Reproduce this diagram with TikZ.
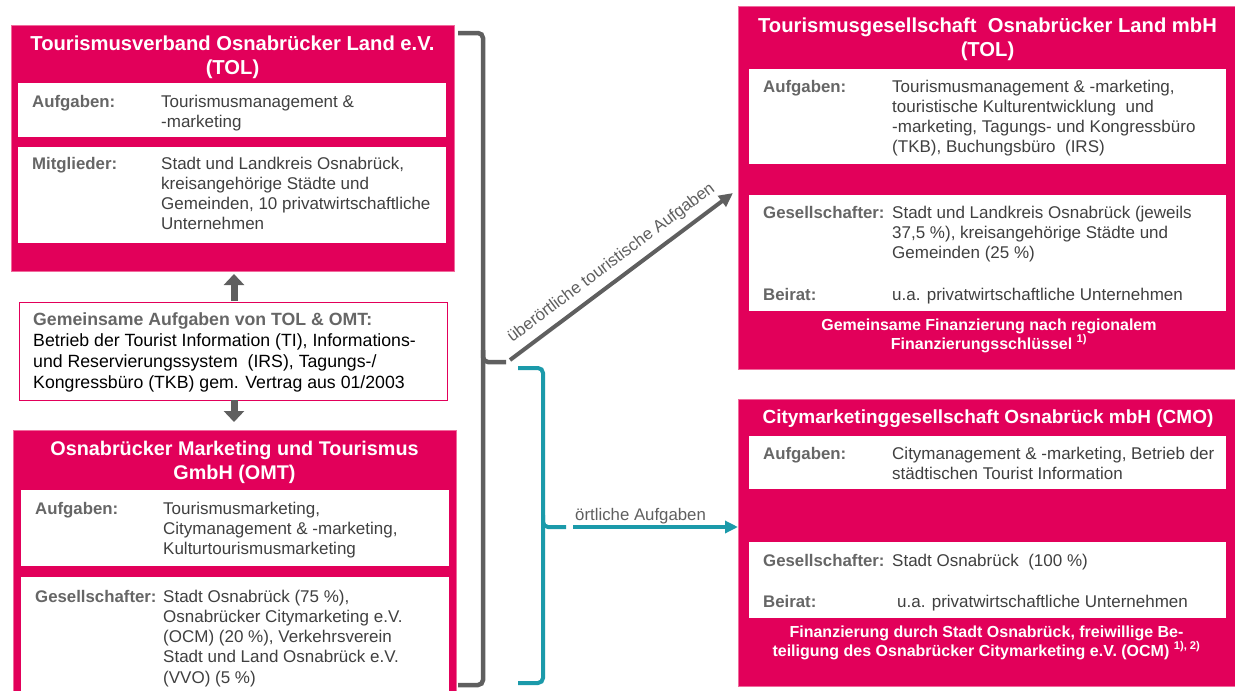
\documentclass[tikz,border=0pt]{standalone}
\usepackage{fontspec}
\setmainfont{Liberation Sans}
\usetikzlibrary{arrows.meta}
\definecolor{tmag}{HTML}{E2005A}
\definecolor{tmagl}{HTML}{F06A9C}
\definecolor{tgray}{HTML}{5F5F5F}
\definecolor{tlab}{HTML}{666666}
\definecolor{ttext}{HTML}{404040}
\definecolor{tteal}{HTML}{1B9AAA}
\newcommand{\mylines}[2]{\parbox[t]{#1}{\raggedright #2}}
\newcommand{\mycenter}[2]{\parbox[t]{#1}{\centering #2}}
\begin{document}
\begin{tikzpicture}[x=1pt,y=-1pt,
  pinkbox/.style={fill=tmag,draw=tmagl,line width=0.6pt,inner sep=0,outer sep=0,anchor=north west},
  whitebox/.style={fill=white,draw=none,inner sep=0,outer sep=0,anchor=north west},
  titletext/.style={anchor=base,inner sep=0,text=white,font=\fontsize{19.8}{24.5}\selectfont\bfseries},
  fintext/.style={anchor=base,inner sep=0,text=white,font=\fontsize{16}{19}\selectfont\bfseries},
  labtext/.style={anchor=base west,inner sep=0,text=tlab,font=\fontsize{16.8}{20.3}\selectfont\bfseries},
  valtext/.style={anchor=base west,inner sep=0,text=ttext,font=\fontsize{17}{20.3}\selectfont},
  blockarrow/.style={draw=tgray,line width=7pt,-{Triangle[length=11pt,width=20pt]}},
  bracegray/.style={draw=tgray,line width=4.5pt,rounded corners=5pt},
  braceteal/.style={draw=tteal,line width=4pt,rounded corners=5pt},
  arrlabel/.style={text=tgray,font=\fontsize{16.8}{20}\selectfont,inner sep=0}
]
\useasboundingbox (0,0) rectangle (1235,691);

% ---------- left top box: Tourismusverband
\node[pinkbox,minimum width=443,minimum height=246] (tolv) at (11,25) {};
\node[whitebox,minimum width=428,minimum height=54] (tolvA) at (18,83) {};
\node[whitebox,minimum width=428,minimum height=96] (tolvM) at (18,147) {};
\node[titletext,font=\fontsize{20.2}{24.5}\selectfont\bfseries] (tolvT) at (232.5,50) {\mycenter{440pt}{Tourismusverband Osnabrücker Land e.V.\\(TOL)}};
\node[labtext] (tolvAl) at (32,107) {Aufgaben:};
\node[valtext] (tolvAv) at (161,107) {\mylines{285pt}{Tourismusmanagement \&\\-marketing}};
\node[labtext] (tolvMl) at (32,169) {Mitglieder:};
\node[valtext] (tolvMv) at (161,169) {\mylines{285pt}{Stadt und Landkreis Osnabrück,\\kreisangehörige Städte und\\Gemeinden, 10 privatwirtschaftliche\\Unternehmen}};

% ---------- middle box
\node[draw=tmag,fill=white,line width=1pt,inner sep=0,outer sep=0,anchor=north west,minimum width=428,minimum height=98] (mid) at (19,302) {};
\node[anchor=base west,inner sep=0,text=black,font=\fontsize{17.7}{21}\selectfont] (midT) at (33,325)
  {\mylines{412pt}{\leavevmode{\color{tlab}\bfseries Gemeinsame Aufgaben von TOL \& OMT:}\\Betrieb der Tourist Information (TI), Informations-\\und Reservierungssystem~ (IRS), Tagungs-/\\Kongressbüro (TKB) gem. Vertrag aus 01/2003}};

% ---------- left bottom box: OMT
\node[pinkbox,minimum width=443,minimum height=262] (omt) at (13,430) {};
\node[whitebox,minimum width=428,minimum height=76] (omtA) at (21,490) {};
\node[whitebox,minimum width=428,minimum height=114] (omtG) at (21,577) {};
\node[titletext] (omtT) at (234.5,455) {\mycenter{440pt}{Osnabrücker Marketing und Tourismus\\GmbH (OMT)}};
\node[labtext] (omtAl) at (35,514) {Aufgaben:};
\node[valtext] (omtAv) at (163,514) {\mylines{285pt}{Tourismusmarketing,\\Citymanagement \& -marketing,\\Kulturtourismusmarketing}};
\node[labtext] (omtGl) at (35,602) {Gesellschafter:};
\node[valtext] (omtGv) at (163,602) {\mylines{285pt}{Stadt Osnabrück (75 \%),\\Osnabrücker Citymarketing e.V.\\(OCM) (20 \%), Verkehrsverein\\Stadt und Land Osnabrück e.V.\\(VVO) (5 \%)}};

% ---------- block arrows
\draw[blockarrow] ([yshift=1pt]mid.north -| 234,0) -- ([yshift=-3pt]tolv.south -| 234,0);
\draw[blockarrow] (mid.south -| 234,0) -- ([yshift=8pt]omt.north -| 234,0);

% ---------- right top box: TOL GmbH
\node[pinkbox,minimum width=497,minimum height=363] (tol) at (738,6) {};
\node[whitebox,minimum width=477,minimum height=95] (tolA) at (749,69) {};
\node[whitebox,minimum width=477,minimum height=116] (tolG) at (749,195) {};
\node[titletext,font=\fontsize{20.2}{24.5}\selectfont\bfseries] (tolT) at (987.5,32) {\mycenter{490pt}{Tourismusgesellschaft~ Osnabrücker Land mbH\\(TOL)}};
\node[labtext] (tolAl) at (763,92) {Aufgaben:};
\node[valtext] (tolAv) at (892,92) {\mylines{330pt}{Tourismusmanagement \& -marketing,\\touristische Kulturentwicklung~ und\\-marketing, Tagungs- und Kongressbüro\\(TKB), Buchungsbüro~ (IRS)}};
\node[labtext] (tolGl) at (763,218) {Gesellschafter:};
\node[valtext] (tolGv) at (892,218) {\mylines{330pt}{Stadt und Landkreis Osnabrück (jeweils\\37,5 \%), kreisangehörige Städte und\\Gemeinden (25 \%)}};
\node[labtext] (tolBl) at (763,300) {Beirat:};
\node[valtext] (tolBv) at (892,300) {u.a. privatwirtschaftliche Unternehmen};
\node[fintext] (tolF) at (989,330) {\mycenter{480pt}{Gemeinsame Finanzierung nach regionalem\\Finanzierungsschlüssel \textsuperscript{1)}}};

% ---------- right bottom box: CMO
\node[pinkbox,minimum width=497,minimum height=287] (cmo) at (738,399) {};
\node[whitebox,minimum width=477,minimum height=53] (cmoA) at (749,436) {};
\node[whitebox,minimum width=477,minimum height=76] (cmoG) at (749,542) {};
\node[titletext,font=\fontsize{19}{24}\selectfont\bfseries] (cmoT) at (988,423) {Citymarketinggesellschaft Osnabrück mbH (CMO)};
\node[labtext] (cmoAl) at (763,459) {Aufgaben:};
\node[valtext] (cmoAv) at (892,459) {\mylines{335pt}{Citymanagement \& -marketing, Betrieb der\\städtischen Tourist Information}};
\node[labtext] (cmoGl) at (763,566) {Gesellschafter:};
\node[valtext] (cmoGv) at (892,566) {Stadt Osnabrück~ (100 \%)};
\node[labtext] (cmoBl) at (763,607) {Beirat:};
\node[valtext] (cmoBv) at (897,607) {u.a. privatwirtschaftliche Unternehmen};
\node[fintext] (cmoF) at (986.5,637) {\mycenter{480pt}{Finanzierung durch Stadt Osnabrück, freiwillige Be-\\teiligung des Osnabrücker Citymarketing e.V. (OCM) \textsuperscript{1), 2)}}};

% ---------- braces
\coordinate (gbT) at (458,33);
\coordinate (gbB) at (458,685);
\coordinate (gbTip) at (506,362);
\draw[bracegray] (gbT) -- (483,33) -- (483,362) -- (gbTip);
\draw[bracegray] (483,350) -- (483,685) -- (gbB);
\coordinate (tbT) at (518,368);
\coordinate (tbB) at (518,683);
\coordinate (tbTip) at (566,527);
\draw[braceteal] (tbT) -- (543,368) -- (543,527) -- (tbTip);
\draw[braceteal] (543,515) -- (543,683) -- (tbB);

% ---------- arrows
\coordinate (gaS) at (510,360);
\coordinate (gaE) at (733,193);
\draw[draw=tgray,line width=4pt,-{Triangle[length=14pt,width=13pt]}] (gaS) -- (gaE)
  node[pos=0.5,sloped,above=7pt,arrlabel] (gaL) {überörtliche touristische Aufgaben};
\coordinate (taS) at (573,527);
\draw[draw=tteal,line width=3.5pt,-{Triangle[length=13pt,width=12pt]}] (taS) -- (cmo.west |- 0,527);
\node[arrlabel,anchor=base west] (taL) at (575,520) {örtliche Aufgaben};
\end{tikzpicture}
\end{document}
